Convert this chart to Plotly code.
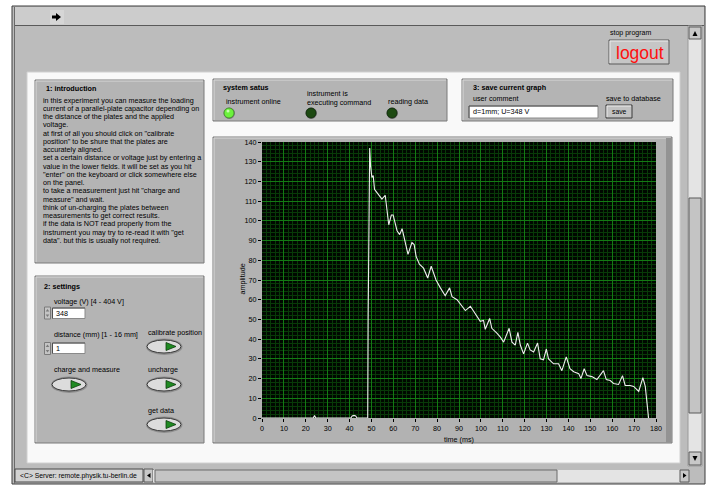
import plotly.graph_objects as go

# ---------------- data ----------------
time_ms = [0, 23.4, 24.0, 24.6, 40.6, 41.2, 42.0, 42.8, 43.4, 48.3, 48.5, 48.7,
           49.2, 49.6, 50.2, 50.8, 51.4, 52.1, 53.3, 54.8, 56.3, 57.1, 57.9, 59.1,
           59.9, 61.7, 62.9, 64.0, 65.2, 66.7, 68.5, 69.5, 70.4, 71.9, 73.8, 74.7,
           75.7, 77.3, 78.4, 79.5, 81.5, 83.7, 85.7, 86.8, 89.1, 91.3, 92.9, 95.2,
           96.7, 98.2, 99.7, 101.2, 102.0, 104.0, 105.0, 107.3, 108.9, 110.4, 111.6,
           112.9, 114.2, 115.7, 116.9, 118.0, 119.5, 121.3, 122.5, 124.1, 125.9,
           127.1, 128.6, 129.9, 130.9, 133.2, 135.5, 137.0, 139.0, 140.7, 142.4,
           144.7, 145.7, 147.2, 148.5, 150.7, 153.0, 156.0, 157.3, 159.1, 160.6,
           162.9, 164.7, 165.9, 168.2, 169.8, 172.1, 174.0, 175.1, 175.9, 176.6]
amplitude = [0, 0, 1.2, 0, 0, 1.0, 1.3, 1.0, 0, 0, 52, 86,
             137, 128, 122, 123, 116, 115, 113, 111, 113, 104, 98, 103,
             103, 95, 93, 96, 90, 83, 89, 88, 82, 78, 76, 74,
             71, 77, 73, 70, 66, 62, 66, 61.5, 60, 56.5, 54.5, 56.7,
             54, 51, 49, 49.5, 45, 50.5, 45.5, 43, 41, 38.5, 42,
             45.5, 38.5, 37, 43.5, 37, 32.5, 38, 34.5, 33.5, 38,
             30, 29.5, 35, 30, 27.5, 27.5, 24, 31, 25, 23.5,
             22.5, 20, 25, 21.5, 21, 19.5, 24, 19.5, 19, 17.5,
             17, 21.5, 16.5, 16.5, 16, 13.5, 20.5, 16, 7, 0]
x_ticks = list(range(0, 181, 10))
y_ticks = list(range(0, 141, 10))

intro_title = "1: introduction"
intro_lines = [
    "in this experiment you can measure the loading",
    "current of a parallel-plate capacitor depending on",
    "the distance of the plates and the applied",
    "voltage.",
    "at first of all you should click on \"calibrate",
    "position\" to be shure that the plates are",
    "accurately aligned.",
    "set a certain distance or voltage just by entering a",
    "value in the lower fields. it will be set as you hit",
    "\"enter\" on the keyboard or click somewhere else",
    "on the panel.",
    "to take a measurement just hit \"charge and",
    "measure\" and wait.",
    "think of un-charging the plates between",
    "measurements to get correct results.",
    "if the data is NOT read properly from the",
    "instrument you may try to re-read it with \"get",
    "data\". but this is usually not required.",
]
voltage_value = "348"
distance_value = "1"
user_comment = "d=1mm; U=348 V"

# ---------------- geometry helpers (pixel -> paper) ----------------
FIG_W, FIG_H = 712, 486
PL, PR, PT, PB = 262, 656, 142, 418
FONT = "Liberation Sans, Arial, sans-serif"


def X(px):
    return (px - PL) / (PR - PL)


def Y(py):
    return (PB - py) / (PB - PT)


shapes = []
annotations = []


def rect(x0, y0, x1, y1, fill, line=None, lw=1):
    shapes.append(dict(type="rect", xref="paper", yref="paper", layer="below",
                       x0=X(x0), x1=X(x1), y0=Y(y1), y1=Y(y0), fillcolor=fill,
                       line=dict(color=line if line else fill, width=lw if line else 0)))


def seg(x0, y0, x1, y1, color, lw=1):
    shapes.append(dict(type="line", xref="paper", yref="paper", layer="below",
                       x0=X(x0), x1=X(x1), y0=Y(y0), y1=Y(y1),
                       line=dict(color=color, width=lw)))


def ellipse(x0, y0, x1, y1, fill, line=None, lw=1):
    shapes.append(dict(type="circle", xref="paper", yref="paper", layer="below",
                       x0=X(x0), x1=X(x1), y0=Y(y1), y1=Y(y0), fillcolor=fill,
                       line=dict(color=line if line else fill, width=lw if line else 0)))


def poly(pts, fill, line=None, lw=1):
    d = "M " + " L ".join(f"{X(a):.5f},{Y(b):.5f}" for a, b in pts) + " Z"
    shapes.append(dict(type="path", xref="paper", yref="paper", layer="below",
                       path=d, fillcolor=fill,
                       line=dict(color=line if line else fill, width=lw if line else 0)))


def text(px, py, s, size=7.2, color="#000000", anchor="left", angle=0, family=FONT):
    annotations.append(dict(x=X(px), y=Y(py), xref="paper", yref="paper", text=s,
                            showarrow=False, xanchor=anchor, yanchor="middle",
                            textangle=angle, font=dict(size=size, color=color, family=family),
                            borderpad=0))


def panel(x0, y0, x1, y1, fill="#b4b4b4"):
    rect(x0, y0, x1, y1, fill, "#7a7a7a", 1)
    seg(x0 + 1, y0 + 1, x1 - 1, y0 + 1, "#d8d8d8")
    seg(x0 + 1, y0 + 1, x0 + 1, y1 - 1, "#d8d8d8")


def sunken_box(x0, y0, x1, y1, fill="#ffffff"):
    rect(x0, y0, x1, y1, fill, "#8a8a8a", 1)
    seg(x0, y0, x1, y0, "#505050")
    seg(x0, y0, x0, y1, "#505050")


def round_button(x0, y0, x1, y1):
    ellipse(x0 - 1, y0 - 1.5, x1 + 1.5, y1 + 2, "#8e8e8e")
    ellipse(x0, y0, x1, y1, "#dcdcdc", "#3c3c3c", 1)
    cx = x1 - 11
    cy = (y0 + y1) / 2
    poly([(cx - 4, cy - 4), (cx + 6, cy), (cx - 4, cy + 4)], "#1f8a22", "#0c3d0c", 0.8)


def spinner(x0, y0, x1, y1):
    rect(x0, y0, x1, y1, "#c4c4c4", "#7a7a7a", 1)
    mx = (x0 + x1) / 2
    my = (y0 + y1) / 2
    poly([(mx - 1.8, my - 1.5), (mx + 1.8, my - 1.5), (mx, my - 4)], "#7a7a7a")
    poly([(mx - 1.8, my + 1.5), (mx + 1.8, my + 1.5), (mx, my + 4)], "#7a7a7a")


# ---------------- window chrome ----------------
rect(12, 6, 705, 484, "#bcbcbc", "#3c3c3c", 1)
seg(14.5, 7, 14.5, 484, "#6a6a6a")
rect(15, 7, 704, 25, "#cccccc")
seg(15, 25.5, 704, 25.5, "#5a5a5a")
rect(50, 10, 64, 24, "#d6d6d6")
poly([(52, 15.5), (56, 15.5), (56, 13), (61, 17), (56, 21), (56, 18.5), (52, 18.5)], "#000000")

# stop program / logout
text(609, 33, "stop program", size=7)
rect(609, 40, 669, 64, "#c6c6c6", "#5a5a5a", 1)
seg(610, 41, 668, 41, "#ececec")
seg(610, 41, 610, 63, "#ececec")
text(639.5, 52.5, "logout", size=17.5, color="#ff1010", anchor="center")

# white content frame
rect(27, 72, 680, 463, "#f9f9f9", "#d0d0d0", 1)

# vertical scrollbar
rect(688, 26, 702, 466, "#e4e4e4", "#9a9a9a", 1)
rect(689, 27, 701, 39, "#c8c8c8", "#5a5a5a", 1)
poly([(692.5, 36), (697.5, 36), (695, 31)], "#000000")
rect(689, 198, 701, 413, "#c4c4c4", "#5a5a5a", 1)
rect(689, 452, 701, 465, "#c8c8c8", "#5a5a5a", 1)
poly([(692.5, 456), (697.5, 456), (695, 461)], "#000000")

# bottom bar
rect(15, 469, 143, 482, "#d2d2d2", "#4a4a4a", 1)
text(19, 475.5, "&lt;C&gt; Server: remote.physik.tu-berlin.de", size=6.8)
rect(144, 469, 153, 482, "#c8c8c8", "#5a5a5a", 1)
poly([(150.5, 473), (150.5, 478), (147, 475.5)], "#000000")
rect(153, 470, 688, 482, "#e4e4e4")
rect(155, 470, 557, 482, "#c4c4c4", "#6a6a6a", 1)
rect(680, 470, 689, 482, "#c8c8c8", "#5a5a5a", 1)
poly([(683, 473), (683, 478), (686.5, 475.5)], "#000000")

# ---------------- panel 1: introduction ----------------
panel(35, 80, 204, 263)
text(45, 88, "<b>" + intro_title + "</b>", size=7.2)
for i, line in enumerate(intro_lines):
    text(42, 100 + i * 8.25, line, size=7.2)

# ---------------- panel 2: settings ----------------
panel(35, 276, 204, 443)
text(43, 286, "<b>2: settings</b>", size=7.2)
text(53, 301.5, "voltage (V) [4 - 404 V]")
spinner(44.5, 307, 50.5, 319)
sunken_box(52.5, 308, 85, 318.5)
text(55, 313.5, voltage_value)
text(53, 334, "distance (mm) [1 - 16 mm]")
spinner(44.5, 342.5, 50.5, 354.5)
sunken_box(52.5, 343, 85, 353.5)
text(55, 348.5, distance_value)
text(147, 332, "calibrate position")
round_button(147, 340, 181, 353)
text(53, 369.5, "charge and measure")
round_button(52, 378, 86, 391)
text(147, 369.5, "uncharge")
round_button(147, 378, 181, 391)
text(147, 410.5, "get data")
round_button(147, 418, 181, 431)

# ---------------- system status ----------------
panel(213, 79, 447, 121)
text(222, 87.5, "<b>system satus</b>", size=7.2)
text(225, 101.5, "instrument online")
text(306, 93.5, "instrument is")
text(306, 102, "executing command")
text(387, 101.5, "reading data")
ellipse(223.5, 107.5, 235, 119, "#7a7a7a")
ellipse(224, 108, 234, 118, "#6cf23c", "#3e8a26", 0.8)
ellipse(226.5, 109.5, 229.5, 112.5, "#c8ffb0")
ellipse(305.5, 107.5, 317, 119, "#7a7a7a")
ellipse(306, 108, 316, 118, "#1d4a12", "#0b2406", 0.8)
ellipse(386.5, 107.5, 398, 119, "#7a7a7a")
ellipse(387, 108, 397, 118, "#1d4a12", "#0b2406", 0.8)

# ---------------- save panel ----------------
panel(462, 79, 673, 121)
text(472, 87.5, "<b>3: save current graph</b>", size=7.2)
text(472, 98.5, "user comment")
sunken_box(469, 106, 598, 118)
text(472, 112, user_comment)
text(605, 98.5, "save to database")
rect(606, 105, 632, 118, "#c2c2c2", "#3a3a3a", 1)
seg(607, 106, 631, 106, "#ececec")
seg(607, 106, 607, 117, "#ececec")
text(619, 111.5, "save", size=6.8, anchor="center")

# ---------------- graph panel ----------------
panel(213, 137, 672, 443, "#b2b2b2")
rect(666, 138, 671.5, 442.5, "#939393")
rect(PL, PT, PR, PB, "#000800")
text(236, 279, "amplitude", angle=-90)
text(459, 439, "time (ms)", anchor="center")

# ---------------- figure ----------------
fig = go.Figure()
fig.add_trace(go.Scatter(x=time_ms, y=amplitude, mode="lines",
                         line=dict(color="#eeeeee", width=1.1),
                         hoverinfo="skip", showlegend=False))

axis_common = dict(showline=False, zeroline=False, ticks="outside", ticklen=3,
                   tickcolor="#000000", tickwidth=1,
                   tickfont=dict(size=7.2, color="#000000", family=FONT),
                   showgrid=True, gridcolor="#137a13", gridwidth=1,
                   minor=dict(dtick=2, showgrid=True, gridcolor="#083a08", gridwidth=1,
                              ticks=""))
fig.update_xaxes(range=[0, 180], tickvals=x_ticks, **axis_common)
fig.update_yaxes(range=[0, 140], tickvals=y_ticks, **axis_common)

fig.update_layout(width=FIG_W, height=FIG_H, autosize=False,
                  margin=dict(l=PL, r=FIG_W - PR, t=PT, b=FIG_H - PB, pad=0),
                  paper_bgcolor="#ffffff", plot_bgcolor="rgba(0,0,0,0)",
                  shapes=shapes, annotations=annotations, showlegend=False,
                  font=dict(family=FONT, size=7.2, color="#000000"))

fig.write_html("out.html", config={"displayModeBar": False},
               post_script="document.body.style.margin='0';document.body.style.overflow='hidden';")
